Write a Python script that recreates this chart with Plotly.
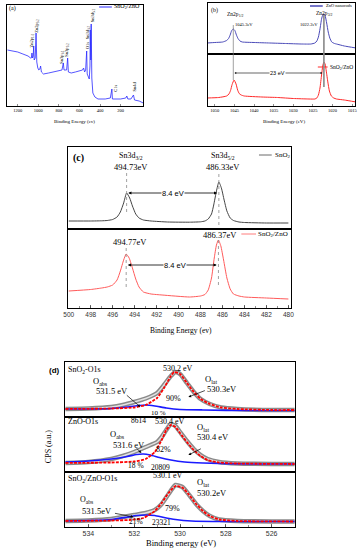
import plotly.graph_objects as go

W, H = 363, 550
SERIF = "Liberation Serif"
SANS = "Liberation Sans"

# ---------------- data ----------------
# (a) survey spectrum SnO2/ZnO
a_ev = [1300, 1250, 1200, 1150, 1100, 1075, 1068, 1062, 1056, 1050, 1045, 1040, 1030, 1022, 1015,
        1005, 995, 985, 978, 970, 950, 900, 850, 800, 770, 757, 750, 725, 715, 708, 680, 640, 600,
        570, 560, 550, 540, 530, 525, 515, 505, 498, 495, 490, 486, 480, 470, 450, 420, 350, 300,
        285, 280, 200, 150, 140, 130, 100, 75, 65, 20, -20]
a_int = [56, 55, 54, 52, 50, 48, 48, 53, 48, 50, 60, 46, 48, 73, 44,
         38, 36, 37, 40, 34, 32, 33, 34, 35, 36, 43, 36, 36, 48, 34, 33, 34, 35,
         36, 38, 34, 36, 55, 32, 30, 27, 40, 76, 46, 82, 28, 13, 9, 7, 7, 8,
         17, 7, 7, 8, 10, 7, 7, 11, 6, 5, 3]
a_ticks = [1200, 1000, 800, 600, 400, 200]

# (b) Zn 2p
b_ev_zno = [1052, 1050, 1048, 1047, 1046.5, 1046.1, 1045.7, 1045.3, 1044.9, 1044.5, 1044.1, 1043.6,
            1043, 1040, 1036, 1032, 1028, 1025.5, 1024.5, 1024, 1023.6, 1023.2, 1022.8, 1022.5,
            1022.2, 1021.9, 1021.5, 1021.1, 1020.7, 1020.2, 1019.5, 1019, 1017, 1014]
b_int_zno = [11, 11.5, 12, 13.5, 15.5, 19, 23.5, 25, 23.5, 19, 15.5, 13,
             12, 11.5, 11, 10.5, 10, 10, 11, 13, 17, 25, 35, 39,
             40, 38.5, 31, 22, 16, 12, 10.5, 10, 8, 6]
b_ev_sz = [1052, 1049, 1047, 1046.4, 1046, 1045.6, 1045.1, 1044.6, 1044.2, 1043.8, 1043.3, 1042.5,
           1038, 1034, 1030, 1026, 1024.5, 1024, 1023.6, 1023.2, 1022.8, 1022.5, 1022.2, 1021.9,
           1021.6, 1021.2, 1020.8, 1020.3, 1019.7, 1019, 1017, 1014]
b_int_sz = [8, 8.5, 10, 12, 15.5, 21.5, 26, 22, 16, 12.5, 11, 10,
            9, 8.5, 7.5, 7, 7, 8, 11, 18, 31, 40, 44, 42,
            35, 24, 15, 10, 8, 7, 6, 4]
b_peaks = [1045.3, 1022.2]
b_ticks = [1050, 1045, 1040, 1035, 1030, 1025, 1020, 1015]

# (c) Sn 3d
c_ev_sno2 = [500, 498, 497, 496.5, 496, 495.6, 495.3, 495.0, 494.73, 494.45, 494.2, 493.9, 493.6,
             493.2, 492.5, 491, 489, 488, 487.6, 487.3, 487.0, 486.8, 486.55, 486.33, 486.1,
             485.85, 485.6, 485.3, 485, 484.5, 484, 482, 480]
c_int_sno2 = [8, 8, 8.2, 8.5, 9.5, 12, 17, 26, 36, 31, 23, 15, 11,
              9, 8, 7, 6.8, 7.2, 8, 10, 15, 24, 38, 47, 41,
              29, 18, 11, 8.5, 7, 6.5, 6, 6]
c_ev_sz = [500, 498, 497, 496.5, 496, 495.6, 495.3, 495.0, 494.77, 494.5, 494.2, 493.9, 493.6,
           493.2, 492.5, 491.5, 489, 488, 487.6, 487.3, 487.0, 486.75, 486.55, 486.37, 486.15,
           485.9, 485.6, 485.3, 485, 484.5, 484, 482, 480]
c_int_sz = [17, 18.5, 20, 21, 23, 28, 37, 48, 54, 50, 40, 29, 21,
            16, 14, 13, 11, 12, 13.5, 18, 30, 50, 63, 68, 62,
            48, 30, 19, 14, 12, 11, 10, 9]
c_peaks_sno2 = [494.73, 486.33]
c_peaks_sz = [494.77, 486.37]
c_ticks = [500, 498, 496, 494, 492, 490, 488, 486, 484, 482, 480]

# (d) O 1s : measured data, O_lat fit, O_abs fit
d1_ev = [535, 534, 533, 532.5, 532, 531.5, 531, 530.7, 530.4, 530.2, 530.0, 529.7, 529.4, 529.1, 528.7,
         528.2, 527.5, 526, 525]
d1_data = [8, 8.5, 10, 12, 15, 18.5, 24, 32, 41, 45, 43, 34, 25, 18, 13, 9.5, 8, 7, 7]
d1_ev_lat = [535, 533, 532, 531.5, 531.0, 530.7, 530.4, 530.25, 530.0, 529.7, 529.4, 529.1, 528.7,
             528.2, 527.5, 526, 525]
d1_lat = [8, 8.5, 9.5, 12, 19, 29, 41, 45, 43, 34, 25, 18, 13, 9.5, 8, 7, 7]
d1_ev_abs = [535, 533, 532.3, 531.8, 531.5, 531.1, 530.6, 530, 529, 527, 525]
d1_abs = [8, 8.5, 10, 11.5, 12, 11, 9, 7.5, 7, 6.5, 6.5]

d2_ev = [535, 534, 533, 532.5, 532, 531.5, 531, 530.8, 530.6, 530.4, 530.2, 530.0, 529.7, 529.4,
         529.1, 528.8, 528.3, 527.5, 526, 525]
d2_data = [9, 10, 13, 16, 20, 25, 30, 35, 42, 48, 46, 40, 31, 23, 17, 13, 10, 8.5, 8, 8]
d2_ev_lat = [535, 533, 532, 531.5, 531.1, 530.8, 530.6, 530.4, 530.2, 530.0, 529.7, 529.4, 529.1,
             528.8, 528.3, 527.5, 525]
d2_lat = [9, 9.5, 10.5, 13, 20, 32, 42, 47, 45, 39, 30, 22, 16, 12, 9.5, 8.5, 8]
d2_ev_abs = [535, 534, 533, 532.3, 531.9, 531.6, 531.3, 530.9, 530.4, 529.8, 529, 527, 525]
d2_abs = [10, 11, 13, 15.5, 17.5, 18, 17, 14.5, 12, 10, 9, 8, 8]

d3_ev = [535, 534, 533, 532.5, 532, 531.5, 531.1, 530.8, 530.5, 530.2, 529.9, 529.6, 529.3, 529.0,
         528.7, 528.3, 527.5, 526, 525]
d3_data = [6, 6.5, 8, 10, 12, 14, 17, 23, 33, 42, 40, 32, 23, 16, 11, 7.5, 6, 5.5, 5.5]
d3_ev_lat = [535, 533, 532.2, 531.6, 531.1, 530.8, 530.5, 530.2, 529.9, 529.6, 529.3, 529.0, 528.7,
             528.3, 527.5, 525]
d3_lat = [6, 6.5, 7, 9, 16, 24, 34, 41, 39.5, 32, 23, 16, 11, 7.5, 6, 5.5]
d3_ev_abs = [535, 534, 533, 532.3, 531.9, 531.5, 531.1, 530.7, 530.2, 529.5, 528, 525]
d3_abs = [6, 6.5, 7.5, 10, 11.5, 12, 11.5, 9.5, 7.5, 6, 5.5, 5.5]
d_ticks = [534, 532, 530, 528, 526]

# ---------------- helpers ----------------
def dx(p0, p1):
    return [p0 / W, p1 / W]


def dy(top, bottom):
    return [1 - bottom / H, 1 - top / H]


def P(px, py):
    return px / W, 1 - py / H


def T(text, px, py, size, xanchor="center", angle=0, family=SERIF, color="black", bg=None):
    x, y = P(px, py)
    d = dict(text=text, x=x, y=y, xref="paper", yref="paper", showarrow=False,
             xanchor=xanchor, yanchor="middle", textangle=angle,
             font=dict(family=family, size=size, color=color), borderpad=0)
    if bg:
        d["bgcolor"] = bg
    return d


def ARW(px1, py1, px2, py2, head=2, size=0.8, width=0.7):
    x, y = P(px2, py2)
    return dict(text="", x=x, y=y, xref="paper", yref="paper", ax=px1 - px2, ay=py1 - py2,
                axref="pixel", ayref="pixel", showarrow=True, arrowhead=head,
                arrowsize=size, arrowwidth=width, arrowcolor="black",
                font=dict(family=SERIF, size=8))


def DARW(xr, yr, xtail, xhead, yv, size=0.8, width=0.8):
    return dict(text="", x=xhead, y=yv, xref=xr, yref=yr, ax=xtail, ay=yv, axref=xr, ayref=yr,
                showarrow=True, arrowhead=2, arrowsize=size, arrowwidth=width, arrowcolor="black",
                font=dict(family=SANS, size=8))


def LEG(px0, px1, py, color, width=1):
    y = 1 - py / H
    return dict(type="line", xref="paper", yref="paper", x0=px0 / W, x1=px1 / W, y0=y, y1=y,
                line=dict(color=color, width=width))


def axis(domain, rng, anchor, **kw):
    d = dict(domain=domain, range=rng, anchor=anchor, showline=True, mirror=True,
             linecolor="black", linewidth=1, showgrid=False, zeroline=False,
             ticks="", showticklabels=False)
    d.update(kw)
    return d


SP = dict(shape="spline", smoothing=0.5)

fig = go.Figure()

# (a)
fig.add_trace(go.Scatter(x=a_ev, y=a_int, mode="lines", line=dict(color="#2a2aff", width=0.8),
                         xaxis="x", yaxis="y", showlegend=False))
# (b)
fig.add_trace(go.Scatter(x=b_ev_zno, y=b_int_zno, mode="lines", line=dict(color="#4a4ab8", width=1, **SP),
                         xaxis="x2", yaxis="y2", showlegend=False))
fig.add_trace(go.Scatter(x=b_ev_sz, y=b_int_sz, mode="lines", line=dict(color="#ff2a2a", width=1, **SP),
                         xaxis="x3", yaxis="y3", showlegend=False))
# (c)
fig.add_trace(go.Scatter(x=c_ev_sno2, y=c_int_sno2, mode="lines", line=dict(color="#444444", width=1, **SP),
                         xaxis="x4", yaxis="y4", showlegend=False))
fig.add_trace(go.Scatter(x=c_ev_sz, y=c_int_sz, mode="lines", line=dict(color="#ff5a5a", width=1, **SP),
                         xaxis="x5", yaxis="y5", showlegend=False))
# (d)
for k, (ev, dat, evl, lat, eva, ab) in enumerate([
        (d1_ev, d1_data, d1_ev_lat, d1_lat, d1_ev_abs, d1_abs),
        (d2_ev, d2_data, d2_ev_lat, d2_lat, d2_ev_abs, d2_abs),
        (d3_ev, d3_data, d3_ev_lat, d3_lat, d3_ev_abs, d3_abs)]):
    xa, ya = "x%d" % (6 + k), "y%d" % (6 + k)
    fig.add_trace(go.Scatter(x=ev, y=dat, mode="lines", line=dict(color="#8a8a8a", width=4.5, **SP),
                             xaxis=xa, yaxis=ya, showlegend=False))
    fig.add_trace(go.Scatter(x=ev, y=dat, mode="lines", line=dict(color="#e2e2e2", width=1.5, **SP),
                             xaxis=xa, yaxis=ya, showlegend=False))
    fig.add_trace(go.Scatter(x=eva, y=ab, mode="lines", line=dict(color="#1a1aff", width=1.7, **SP),
                             xaxis=xa, yaxis=ya, showlegend=False))
    fig.add_trace(go.Scatter(x=evl, y=lat, mode="lines", line=dict(color="#ff0000", width=1.8, dash="3px,1.2px", **SP),
                             xaxis=xa, yaxis=ya, showlegend=False))

small_tick = dict(family=SERIF, size=4.5, color="black")
layout = dict(
    width=W, height=H, margin=dict(l=0, r=0, t=0, b=0),
    paper_bgcolor="white", plot_bgcolor="white",
    xaxis=axis(dx(3, 142), [1305, -20], "y", showticklabels=True, tickvals=a_ticks, ticks="inside",
               ticklen=2, tickwidth=0.6, tickfont=small_tick),
    yaxis=axis(dy(5, 106), [0, 101], "x"),
    xaxis2=axis(dx(208, 358), [1051.75, 1014.25], "y2"),
    yaxis2=axis(dy(3, 54), [0, 51], "x2"),
    xaxis3=axis(dx(208, 358), [1051.75, 1014.25], "y3", showticklabels=True, tickvals=b_ticks,
                ticks="inside", ticklen=2, tickwidth=0.6, tickfont=small_tick),
    yaxis3=axis(dy(54, 106), [0, 52], "x3"),
    xaxis4=axis(dx(65, 293), [500.09, 479.73], "y4"),
    yaxis4=axis(dy(147, 229), [0, 82], "x4"),
    xaxis5=axis(dx(65, 293), [500.09, 479.73], "y5", showticklabels=True, tickvals=c_ticks,
                ticks="inside", ticklen=3, tickwidth=0.8,
                tickfont=dict(family=SANS, size=6.5, color="#333"),
                minor=dict(ticks="inside", ticklen=2, dtick=1, tickwidth=0.6)),
    yaxis5=axis(dy(229, 308), [0, 79], "x5"),
    xaxis6=axis(dx(62, 297), [535.03, 524.97], "y6"),
    yaxis6=axis(dy(362, 417), [0, 55], "x6"),
    xaxis7=axis(dx(62, 297), [535.03, 524.97], "y7"),
    yaxis7=axis(dy(417, 472), [0, 55], "x7"),
    xaxis8=axis(dx(62, 297), [535.03, 524.97], "y8", showticklabels=True, tickvals=d_ticks,
                ticks="inside", ticklen=3, tickwidth=0.8,
                tickfont=dict(family=SANS, size=7, color="#333"),
                minor=dict(ticks="inside", ticklen=2, dtick=1, tickwidth=0.6)),
    yaxis8=axis(dy(472, 527), [0, 55], "x8"),
)

ann = []
# ----- (a)
ann += [
    T("(a)", 9, 9, 6),
    T("SnO<sub>2</sub>/ZnO", 111, 7, 6, xanchor="left"),
    T("Zn2p<sub>1/2</sub>", 29, 40, 4.5, angle=-90),
    T("Zn2p<sub>3/2</sub>", 33.5, 26, 4.5, angle=-90),
    T("Sn3p<sub>3/2</sub>", 59, 57, 4.5, angle=-90),
    T("Sn3p<sub>1/2</sub>", 64, 50, 4.5, angle=-90),
    T("O1s", 86, 45, 4.5, angle=-90),
    T("Sn3d<sub>3/2</sub>", 86, 32, 4.5, angle=-90),
    T("Sn3d<sub>5/2</sub>", 91, 15, 4.5, angle=-90),
    T("C1s", 113, 88, 4.5, angle=-90),
    T("Sn4d", 133, 86, 4.5, angle=-90),
    T("Binding Energy (ev)", 72, 122, 5),
]
# ----- (b)
ann += [
    T("(b)", 215, 10, 6),
    T("ZnO nanorods", 327, 6, 4.5, xanchor="left"),
    T("Zn2p<sub>1/2</sub>", 236, 15, 5.5),
    T("1045.3eV", 245, 25, 4.5),
    T("1022.2eV", 311, 25, 4.5),
    T("Zn2p<sub>3/2</sub>", 327, 13, 5.5),
    T("SnO<sub>2</sub>/ZnO", 331, 67, 5.5, xanchor="left"),
    DARW("x3", "y3", 1034, b_peaks[0] - 0.3, 33, size=0.6, width=0.6),
    DARW("x3", "y3", 1034, b_peaks[1] + 0.4, 33, size=0.6, width=0.6),
    dict(text="23 eV", x=1034, y=33, xref="x3", yref="y3", showarrow=False,
         font=dict(family=SANS, size=5.5, color="black"), bgcolor="white", borderpad=0),
    T("Binding Energy (eV)", 285, 122, 5),
]
# ----- (c)
ann += [
    T("<b>(c)</b>", 76, 158, 10),
    T("SnO<sub>2</sub>", 275, 155, 7, xanchor="left"),
    T("Sn3d<sub>3/2</sub>", 130, 156, 8),
    T("494.73eV", 130, 167, 8.5),
    T("Sn3d<sub>5/2</sub>", 223, 156, 8),
    T("486.33eV", 223, 167, 8.5),
    T("494.77eV", 128, 242, 8.5),
    T("486.37eV", 220, 235, 8.5),
    T("SnO<sub>2</sub>/ZnO", 258, 234, 7, xanchor="left"),
    DARW("x4", "y4", 490.5, c_peaks_sno2[0] - 0.15, 36),
    DARW("x4", "y4", 490.5, c_peaks_sno2[1] + 0.15, 36),
    dict(text="8.4 eV", x=490.5, y=36, xref="x4", yref="y4", showarrow=False,
         font=dict(family=SANS, size=7.5, color="black"), bgcolor="white", borderpad=0),
    DARW("x5", "y5", 490.3, c_peaks_sz[0] - 0.15, 43),
    DARW("x5", "y5", 490.3, c_peaks_sz[1] + 0.15, 43),
    dict(text="8.4 eV", x=490.3, y=43, xref="x5", yref="y5", showarrow=False,
         font=dict(family=SANS, size=7.5, color="black"), bgcolor="white", borderpad=0),
    T("Binding Energy (ev)", 180, 330, 7.5),
]
# ----- (d)
ann += [
    T("<b>(d)</b>", 52, 370, 8, family=SANS),
    T("SnO<sub>2</sub>-O1s", 64, 370, 8, xanchor="left"),
    T("530.2 eV", 177, 368, 8),
    T("O<sub>abs</sub>", 98, 381, 8.5),
    T("531.5 eV", 110, 391, 8.5),
    ARW(124, 394, 139, 407),
    T("90%", 173, 398, 8),
    T("O<sub>lat</sub>", 211, 379, 8.5),
    T("530.3eV", 222, 389, 8.5),
    ARW(206, 390, 188, 397),
    T("8614", 137, 420, 7.5),
    T("10 %", 158, 412.5, 7),

    T("ZnO-O1s", 64, 422, 8, xanchor="left"),
    T("530.4 eV", 169, 421, 8),
    T("O<sub>abs</sub>", 116, 434, 8.5),
    T("531.6 eV", 127, 445, 8.5),
    ARW(134, 447, 140, 453),
    T("82%", 163, 449, 8),
    T("O<sub>lat</sub>", 203, 427, 8.5),
    T("530.4 eV", 213, 437, 8.5),
    ARW(202, 448, 188, 455),
    T("18 %", 135, 465, 7.5),
    T("20809", 160, 467, 7.5),

    T("SnO<sub>2</sub>/ZnO-O1s", 64, 479, 8, xanchor="left"),
    T("530.1 eV", 167, 475, 8),
    T("O<sub>lat</sub>", 203, 482, 8.5),
    T("530.2eV", 212, 493, 8.5),
    T("79%", 172, 508, 8),
    T("O<sub>abs</sub>", 84, 500, 8),
    T("531.5eV", 95, 511, 8.5),
    ARW(112, 513, 132, 517),
    T("21%", 135, 521, 7.5),
    T("23321", 161, 522, 7.5),
    T("CPS (a.u.)", 45, 447, 8, angle=-90),
    T("Binding energy (eV)", 180, 543, 8.5),
]
layout["annotations"] = ann

shapes = [
    LEG(97, 110, 7, "#2a2aff", 1),
    LEG(312, 325, 6, "#4a4ab8", 1.5),
    LEG(320, 330, 67, "#ff2a2a", 1),
    LEG(260, 273, 155, "#444444", 0.8),
    LEG(242, 257, 234, "#ff5a5a", 0.8),
    # (b) vertical guide lines through the peaks
    dict(type="line", xref="x2", yref="paper", x0=b_peaks[0], x1=b_peaks[0],
         y0=1 - 80 / H, y1=1 - 25 / H, line=dict(color="#777777", width=0.7)),
    dict(type="line", xref="x2", yref="paper", x0=b_peaks[1], x1=b_peaks[1],
         y0=1 - 87 / H, y1=1 - 15 / H, line=dict(color="#888888", width=1.6)),
    # (c) dotted peak markers
    dict(type="line", xref="x4", yref="y4", x0=c_peaks_sno2[0], x1=c_peaks_sno2[0], y0=17, y1=57,
         line=dict(color="#888888", width=0.8, dash="dot")),
    dict(type="line", xref="x4", yref="y4", x0=c_peaks_sno2[1], x1=c_peaks_sno2[1], y0=4, y1=57,
         line=dict(color="#888888", width=0.8, dash="dot")),
    dict(type="line", xref="x5", yref="y5", x0=c_peaks_sz[0], x1=c_peaks_sz[0], y0=21, y1=60,
         line=dict(color="#888888", width=0.8, dash="dot")),
    dict(type="line", xref="x5", yref="y5", x0=c_peaks_sz[1], x1=c_peaks_sz[1], y0=23, y1=71,
         line=dict(color="#888888", width=0.8, dash="dot")),
]
layout["shapes"] = shapes

fig.update_layout(**layout)
fig.write_html(
    "out.html",
    config={"displayModeBar": False, "staticPlot": True},
    post_script="document.body.style.margin='0';document.body.style.padding='0';"
                "document.documentElement.style.overflow='hidden';",
)
